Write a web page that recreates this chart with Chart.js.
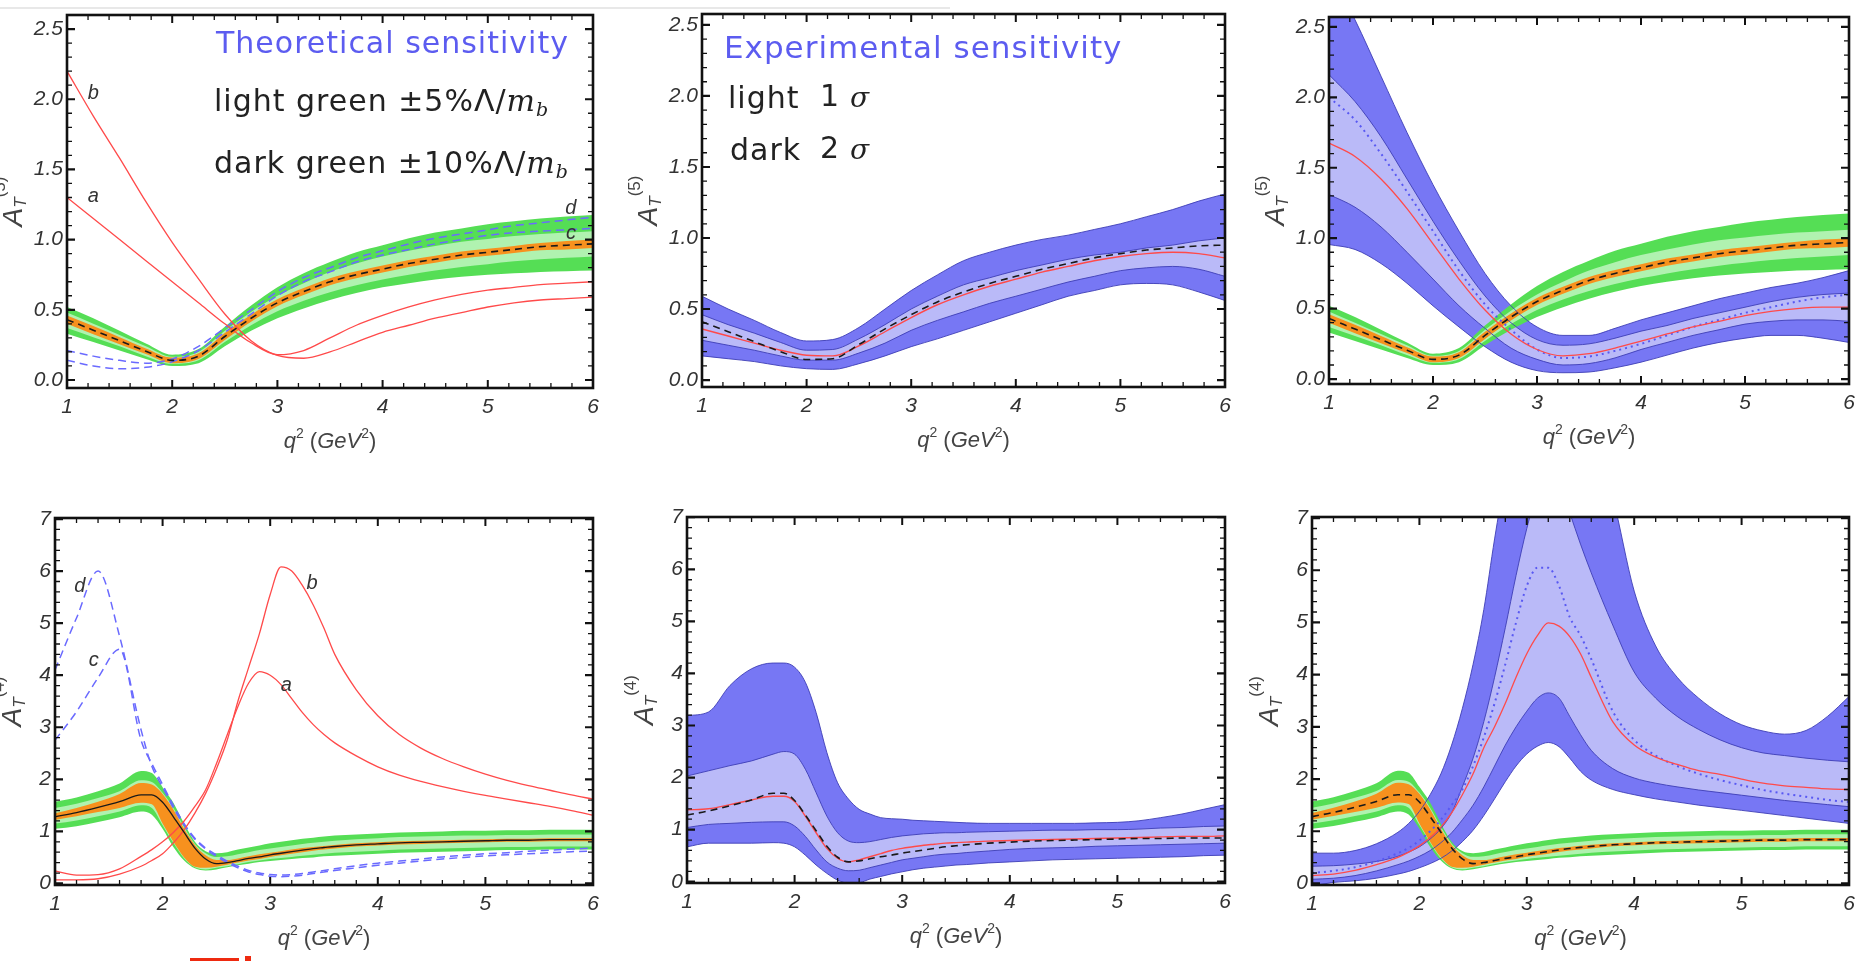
<!DOCTYPE html>
<html>
<head>
<meta charset="utf-8">
<script src="https://cdn.jsdelivr.net/npm/chart.js@4.4.0/dist/chart.umd.min.js"></script>
<style>
  body { margin: 0; background: #fff; width: 1868px; height: 961px; overflow: hidden; position: relative; }
  canvas { position: absolute; }
  .mark { position: absolute; background: #ee2a10; }
</style>
</head>
<body>
<div style="position:absolute;left:0;top:7px;width:950px;height:2px;background:#e8e8e8"></div>
<canvas id="p1"></canvas>
<canvas id="p2"></canvas>
<canvas id="p3"></canvas>
<canvas id="p4"></canvas>
<canvas id="p5"></canvas>
<canvas id="p6"></canvas>
<div class="mark" style="left:190px;top:958px;width:49px;height:3px"></div>
<div class="mark" style="left:245px;top:956px;width:6px;height:5px"></div>
<script>
// q^2 grids (GeV^2)
const qTop = [1, 1.25, 1.5, 1.75, 2, 2.25, 2.5, 2.75, 3, 3.25, 3.5, 3.75, 4, 4.25, 4.5, 4.75, 5, 5.25, 5.5, 5.75, 6];
const qBot = [1, 1.2, 1.4, 1.6, 1.8, 1.9, 2.0, 2.1, 2.2, 2.3, 2.4, 2.5, 2.6, 2.7, 2.8, 2.9, 3.0, 3.1, 3.2, 3.3,
              3.4, 3.5, 3.6, 3.8, 4.0, 4.2, 4.4, 4.6, 4.8, 5.0, 5.2, 5.4, 5.6, 5.8, 6.0];

const xTickLabels = ['1', '2', '3', '4', '5', '6'];
const yTickLabelsTop = ['0.0', '0.5', '1.0', '1.5', '2.0', '2.5'];
const yTickLabelsBot = ['0', '1', '2', '3', '4', '5', '6', '7'];

// ---- top row: A_T^(5) ----
// SM central value and theory bands
const smTop   = [0.43, 0.355, 0.28, 0.205, 0.14, 0.17, 0.31, 0.44, 0.55, 0.63, 0.70, 0.75, 0.79, 0.83, 0.86, 0.89, 0.91, 0.93, 0.95, 0.96, 0.97];
const orHiTop = [0.46, 0.385, 0.305, 0.225, 0.16, 0.19, 0.335, 0.465, 0.575, 0.655, 0.725, 0.775, 0.815, 0.855, 0.885, 0.915, 0.935, 0.955, 0.975, 0.99, 1.00];
const orLoTop = [0.40, 0.325, 0.255, 0.185, 0.12, 0.15, 0.285, 0.415, 0.525, 0.605, 0.675, 0.725, 0.765, 0.805, 0.835, 0.865, 0.885, 0.905, 0.925, 0.93, 0.94];
const lgHiTop = [0.48, 0.40, 0.32, 0.24, 0.165, 0.20, 0.35, 0.485, 0.60, 0.69, 0.77, 0.83, 0.88, 0.92, 0.955, 0.985, 1.005, 1.025, 1.04, 1.05, 1.06];
const lgLoTop = [0.37, 0.305, 0.24, 0.17, 0.115, 0.14, 0.27, 0.39, 0.49, 0.565, 0.625, 0.675, 0.715, 0.75, 0.78, 0.805, 0.825, 0.845, 0.86, 0.87, 0.88];
const dgHiTop = [0.52, 0.44, 0.35, 0.26, 0.18, 0.22, 0.38, 0.53, 0.66, 0.76, 0.84, 0.91, 0.96, 1.01, 1.05, 1.08, 1.11, 1.13, 1.15, 1.165, 1.175];
const dgLoTop = [0.33, 0.27, 0.21, 0.15, 0.10, 0.12, 0.24, 0.35, 0.44, 0.51, 0.57, 0.62, 0.66, 0.69, 0.715, 0.735, 0.75, 0.76, 0.77, 0.775, 0.78];
// benchmark curves a, b (red) and c, d (blue dashed)
const p1A = [1.30, 1.15, 1.00, 0.85, 0.70, 0.55, 0.40, 0.265, 0.18, 0.21, 0.30, 0.39, 0.46, 0.52, 0.57, 0.61, 0.64, 0.66, 0.68, 0.69, 0.70];
const p1B = [2.20, 1.88, 1.58, 1.27, 0.98, 0.72, 0.47, 0.28, 0.175, 0.155, 0.20, 0.27, 0.34, 0.39, 0.44, 0.48, 0.52, 0.55, 0.57, 0.58, 0.59];
const p1C = [0.14, 0.10, 0.08, 0.09, 0.13, 0.21, 0.34, 0.47, 0.60, 0.70, 0.77, 0.84, 0.89, 0.93, 0.97, 1.00, 1.03, 1.05, 1.06, 1.07, 1.08];
const p1D = [0.21, 0.17, 0.14, 0.12, 0.15, 0.24, 0.37, 0.50, 0.63, 0.73, 0.80, 0.87, 0.92, 0.97, 1.01, 1.04, 1.07, 1.10, 1.12, 1.14, 1.16];
// experimental sensitivity, SM
const p2Sm  = [0.41, 0.34, 0.27, 0.20, 0.145, 0.15, 0.25, 0.36, 0.46, 0.55, 0.62, 0.68, 0.73, 0.78, 0.82, 0.86, 0.89, 0.915, 0.93, 0.945, 0.95];
const p2Hi2 = [0.59, 0.50, 0.42, 0.335, 0.275, 0.285, 0.37, 0.50, 0.63, 0.74, 0.84, 0.90, 0.95, 0.99, 1.02, 1.06, 1.10, 1.15, 1.20, 1.26, 1.31];
const p2Hi1 = [0.46, 0.39, 0.33, 0.265, 0.21, 0.215, 0.29, 0.39, 0.50, 0.59, 0.67, 0.72, 0.77, 0.81, 0.85, 0.88, 0.90, 0.93, 0.95, 0.98, 1.00];
const p2Red = [0.36, 0.31, 0.26, 0.21, 0.175, 0.17, 0.24, 0.34, 0.44, 0.53, 0.60, 0.66, 0.71, 0.76, 0.80, 0.84, 0.87, 0.89, 0.90, 0.89, 0.86];
const p2Lo1 = [0.28, 0.245, 0.21, 0.17, 0.14, 0.14, 0.19, 0.26, 0.35, 0.42, 0.48, 0.54, 0.59, 0.64, 0.69, 0.73, 0.77, 0.79, 0.80, 0.78, 0.73];
const p2Lo2 = [0.17, 0.15, 0.13, 0.10, 0.08, 0.075, 0.115, 0.17, 0.235, 0.29, 0.35, 0.41, 0.47, 0.53, 0.59, 0.63, 0.67, 0.68, 0.67, 0.62, 0.56];
// experimental sensitivity, new physics point
const p3Hi2 = [2.90, 2.55, 2.15, 1.75, 1.38, 1.05, 0.75, 0.52, 0.37, 0.31, 0.31, 0.36, 0.42, 0.47, 0.52, 0.57, 0.61, 0.65, 0.68, 0.72, 0.77];
const p3Hi1 = [2.16, 1.97, 1.72, 1.42, 1.12, 0.84, 0.59, 0.40, 0.28, 0.24, 0.25, 0.29, 0.34, 0.38, 0.43, 0.47, 0.51, 0.55, 0.58, 0.60, 0.61];
const p3Red = [1.675, 1.58, 1.42, 1.21, 0.96, 0.71, 0.49, 0.32, 0.21, 0.165, 0.18, 0.22, 0.27, 0.32, 0.37, 0.41, 0.45, 0.48, 0.50, 0.51, 0.51];
const p3Dot = [2.00, 1.84, 1.60, 1.33, 1.05, 0.77, 0.53, 0.35, 0.21, 0.15, 0.16, 0.20, 0.25, 0.31, 0.37, 0.42, 0.47, 0.51, 0.55, 0.58, 0.60];
const p3Lo1 = [1.31, 1.22, 1.08, 0.90, 0.71, 0.52, 0.36, 0.22, 0.14, 0.10, 0.11, 0.15, 0.21, 0.26, 0.31, 0.35, 0.39, 0.41, 0.42, 0.42, 0.41];
const p3Lo2 = [0.955, 0.92, 0.82, 0.68, 0.52, 0.37, 0.23, 0.12, 0.06, 0.045, 0.05, 0.08, 0.12, 0.17, 0.22, 0.26, 0.29, 0.31, 0.31, 0.29, 0.26];

// ---- bottom row: A_T^(4) ----
const smBot    = [1.28, 1.36, 1.46, 1.57, 1.70, 1.70, 1.56, 1.28, 0.98, 0.68, 0.47, 0.38, 0.40, 0.44, 0.48, 0.51, 0.55, 0.58, 0.61, 0.64,
                  0.67, 0.69, 0.71, 0.74, 0.76, 0.78, 0.79, 0.80, 0.81, 0.82, 0.83, 0.83, 0.84, 0.84, 0.84];
const orHiBot  = [1.35, 1.45, 1.57, 1.72, 1.93, 1.90, 1.72, 1.42, 1.05, 0.74, 0.54, 0.45, 0.45, 0.48, 0.52, 0.56, 0.59, 0.62, 0.65, 0.68,
                  0.70, 0.72, 0.74, 0.77, 0.79, 0.81, 0.82, 0.83, 0.84, 0.85, 0.86, 0.86, 0.87, 0.87, 0.87];
const orLoBot  = [1.22, 1.29, 1.37, 1.45, 1.55, 1.52, 1.15, 0.80, 0.50, 0.32, 0.30, 0.32, 0.36, 0.40, 0.44, 0.47, 0.51, 0.54, 0.57, 0.60,
                  0.63, 0.65, 0.67, 0.71, 0.73, 0.75, 0.76, 0.77, 0.78, 0.79, 0.80, 0.80, 0.81, 0.81, 0.81];
const lgHiBot  = [1.45, 1.53, 1.64, 1.77, 1.98, 1.95, 1.74, 1.45, 1.08, 0.76, 0.58, 0.51, 0.52, 0.56, 0.60, 0.64, 0.67, 0.70, 0.73, 0.76,
                  0.78, 0.80, 0.82, 0.85, 0.87, 0.89, 0.90, 0.91, 0.92, 0.92, 0.93, 0.93, 0.94, 0.94, 0.94];
const lgLoBot  = [1.15, 1.21, 1.29, 1.38, 1.50, 1.45, 1.12, 0.78, 0.48, 0.31, 0.27, 0.30, 0.33, 0.37, 0.41, 0.44, 0.47, 0.49, 0.51, 0.53,
                  0.55, 0.57, 0.59, 0.61, 0.63, 0.65, 0.66, 0.67, 0.68, 0.69, 0.70, 0.70, 0.71, 0.71, 0.71];
const dgHiBot  = [1.57, 1.65, 1.77, 1.92, 2.16, 2.12, 1.85, 1.55, 1.15, 0.80, 0.62, 0.58, 0.60, 0.65, 0.69, 0.73, 0.77, 0.80, 0.83, 0.86,
                  0.88, 0.90, 0.92, 0.94, 0.96, 0.98, 0.99, 1.00, 1.01, 1.01, 1.02, 1.02, 1.03, 1.03, 1.03];
const dgLoBot  = [1.05, 1.10, 1.18, 1.27, 1.38, 1.32, 1.05, 0.70, 0.44, 0.29, 0.25, 0.27, 0.31, 0.35, 0.38, 0.41, 0.43, 0.45, 0.47, 0.49,
                  0.50, 0.52, 0.53, 0.55, 0.57, 0.59, 0.60, 0.61, 0.62, 0.63, 0.64, 0.64, 0.65, 0.65, 0.65];
const p4A = [0.24, 0.16, 0.17, 0.28, 0.52, 0.65, 0.80, 0.98, 1.20, 1.48, 1.80, 2.30, 2.85, 3.40, 3.85, 4.07, 4.00, 3.82, 3.55, 3.28,
             3.05, 2.86, 2.70, 2.45, 2.24, 2.08, 1.96, 1.86, 1.77, 1.69, 1.62, 1.55, 1.48, 1.40, 1.31];
const p4B = [0.07, 0.07, 0.09, 0.18, 0.33, 0.44, 0.57, 0.78, 1.03, 1.35, 1.73, 2.20, 2.75, 3.50, 4.15, 4.80, 5.55, 6.08, 6.00, 5.72,
             5.35, 4.90, 4.40, 3.72, 3.22, 2.86, 2.60, 2.40, 2.24, 2.10, 1.98, 1.88, 1.79, 1.70, 1.62];
const p4C = [2.75, 3.30, 3.95, 4.50, 2.75, 2.30, 1.90, 1.50, 1.15, 0.87, 0.68, 0.55, 0.43, 0.33, 0.25, 0.20, 0.17, 0.16, 0.17, 0.19,
             0.22, 0.25, 0.28, 0.34, 0.39, 0.43, 0.47, 0.51, 0.54, 0.57, 0.59, 0.62, 0.64, 0.66, 0.68];
const p4D = [4.10, 5.10, 6.00, 4.75, 2.95, 2.25, 1.85, 1.45, 1.12, 0.85, 0.66, 0.52, 0.40, 0.30, 0.22, 0.17, 0.14, 0.13, 0.14, 0.16,
             0.19, 0.22, 0.25, 0.30, 0.35, 0.39, 0.43, 0.47, 0.50, 0.53, 0.55, 0.57, 0.59, 0.61, 0.62];
const p5Hi2 = [3.19, 3.26, 3.77, 4.09, 4.20, 4.20, 4.12, 3.83, 3.25, 2.48, 1.90, 1.59, 1.39, 1.30, 1.23, 1.21, 1.20, 1.18, 1.17, 1.16,
               1.15, 1.14, 1.13, 1.12, 1.12, 1.12, 1.12, 1.12, 1.13, 1.14, 1.17, 1.23, 1.30, 1.39, 1.48];
const p5Hi1 = [2.03, 2.13, 2.23, 2.32, 2.45, 2.50, 2.45, 2.16, 1.71, 1.26, 0.94, 0.78, 0.75, 0.77, 0.81, 0.85, 0.88, 0.90, 0.92, 0.93,
               0.94, 0.94, 0.95, 0.96, 0.97, 0.98, 0.99, 0.99, 1.00, 1.00, 1.01, 1.03, 1.04, 1.06, 1.07];
const p5Red = [1.38, 1.40, 1.48, 1.57, 1.64, 1.64, 1.54, 1.26, 0.94, 0.64, 0.45, 0.38, 0.42, 0.48, 0.54, 0.60, 0.64, 0.67, 0.70, 0.72,
               0.74, 0.75, 0.76, 0.78, 0.79, 0.80, 0.81, 0.82, 0.83, 0.84, 0.85, 0.86, 0.87, 0.87, 0.88];
const p5Lo1 = [1.04, 1.10, 1.12, 1.14, 1.15, 1.15, 1.07, 0.87, 0.61, 0.38, 0.26, 0.21, 0.22, 0.27, 0.32, 0.37, 0.42, 0.45, 0.48, 0.51,
               0.53, 0.54, 0.56, 0.59, 0.62, 0.64, 0.65, 0.66, 0.68, 0.69, 0.70, 0.71, 0.72, 0.73, 0.74];
const p5Lo2 = [0.67, 0.74, 0.74, 0.74, 0.75, 0.74, 0.67, 0.51, 0.32, 0.16, 0.03, -0.03, -0.02, 0.05, 0.10, 0.15, 0.19, 0.23, 0.26, 0.28,
               0.30, 0.32, 0.33, 0.36, 0.38, 0.40, 0.42, 0.43, 0.44, 0.45, 0.46, 0.47, 0.48, 0.50, 0.51];
const p6Hi2 = [0.58, 0.58, 0.63, 0.76, 0.98, 1.15, 1.38, 1.70, 2.10, 2.65, 3.35, 4.20, 5.25, 6.60, 7.80, 8.80, 9.50, 9.80, 9.90, 9.80,
               9.50, 9.10, 8.70, 7.40, 5.60, 4.55, 3.95, 3.55, 3.25, 3.04, 2.92, 2.86, 2.93, 3.20, 3.58];
const p6Hi1 = [0.33, 0.34, 0.37, 0.42, 0.52, 0.60, 0.70, 0.85, 1.05, 1.35, 1.85, 2.40, 3.10, 3.95, 4.90, 5.90, 6.80, 7.50, 7.80, 7.70,
               7.10, 6.50, 5.95, 4.95, 4.05, 3.55, 3.20, 2.95, 2.75, 2.60, 2.50, 2.45, 2.40, 2.36, 2.33];
const p6Red = [0.15, 0.18, 0.25, 0.36, 0.50, 0.60, 0.72, 0.88, 1.08, 1.35, 1.70, 2.10, 2.60, 3.00, 3.45, 3.95, 4.40, 4.75, 4.99, 4.93,
               4.73, 4.40, 3.95, 3.10, 2.65, 2.42, 2.28, 2.16, 2.09, 2.00, 1.92, 1.87, 1.84, 1.81, 1.80];
const p6Dot = [0.20, 0.24, 0.31, 0.42, 0.58, 0.68, 0.82, 1.00, 1.22, 1.50, 1.80, 2.25, 2.80, 3.45, 4.20, 5.00, 5.70, 6.05, 6.05, 5.70,
               5.10, 4.75, 4.30, 3.30, 2.75, 2.45, 2.25, 2.10, 1.98, 1.88, 1.79, 1.72, 1.66, 1.60, 1.56];
const p6Lo1 = [0.08, 0.10, 0.15, 0.24, 0.36, 0.43, 0.52, 0.63, 0.78, 0.97, 1.22, 1.50, 1.85, 2.25, 2.65, 3.00, 3.30, 3.55, 3.65, 3.55,
               3.20, 2.85, 2.55, 2.20, 2.02, 1.92, 1.85, 1.79, 1.74, 1.69, 1.64, 1.59, 1.55, 1.51, 1.47];
const p6Lo2 = [-0.05, 0.02, 0.05, 0.10, 0.18, 0.23, 0.30, 0.38, 0.48, 0.62, 0.80, 1.02, 1.30, 1.62, 1.95, 2.25, 2.48, 2.63, 2.70, 2.62,
               2.40, 2.15, 1.98, 1.80, 1.70, 1.62, 1.56, 1.50, 1.45, 1.40, 1.35, 1.30, 1.25, 1.20, 1.15];

const COL = {
  dkBlue: '#7777f4', ltBlue: '#babaf8', blueEdge: '#3d3db5',
  green: '#55de55', ltGreen: '#b0f2b0', orange: '#f7911e',
  red: '#ff4a4a', dash: '#6a6aff', sm: '#1a1a1a', dot: '#5858f2',
  none: 'rgba(0,0,0,0)'
};
const SANS = '"Liberation Sans"';
const TICK_FONT = 'italic 21px ' + SANS;

const pts = (xs, ys) => ys.map((v, i) => ({ x: xs[i], y: v }));

function band(xs, lo, hi, color, edge) {
  return [
    { data: pts(xs, hi), backgroundColor: color, borderColor: edge || COL.none, borderWidth: edge ? 0.9 : 1, fill: '+1' },
    { data: pts(xs, lo), borderColor: edge || COL.none, borderWidth: edge ? 0.9 : 1, fill: false }
  ];
}
function line(xs, ys, color, width, dash) {
  return { data: pts(xs, ys), borderColor: color, borderWidth: width, borderDash: dash || [], fill: false };
}
function theory(xs, orLo, orHi, lgLo, lgHi, dgLo, dgHi) {
  return [
    ...band(xs, orLo, orHi, COL.orange),
    ...band(xs, lgLo, lgHi, COL.ltGreen),
    ...band(xs, dgLo, dgHi, COL.green)
  ];
}
function exper(xs, lo2, lo1, hi1, hi2) {
  return [
    ...band(xs, lo1, hi1, COL.ltBlue, COL.blueEdge),
    ...band(xs, lo2, hi2, COL.dkBlue, COL.blueEdge)
  ];
}

const mathLine = (pre) => [
  [pre, '30px "DejaVu Sans"', 0],
  ['m', 'italic 30px "DejaVu Serif"', 0],
  ['b', 'italic 19px "DejaVu Serif"', 8]
];

// frame rectangles [left, top, right, bottom] in page pixels, and per panel decorations
const PANELS = {
  p1: { frame: [67, 15, 593, 388], y: [-0.057, 2.6], top: true,
        notes: [['b', 1.25, 2.04], ['a', 1.25, 1.31], ['d', 5.79, 1.22], ['c', 5.79, 1.045]],
        texts: [
          { parts: [['Theoretical sensitivity', '30px "DejaVu Sans"', 0]], color: '#5c5cf0', dx: 149, dy: 30 },
          { parts: mathLine('light green ±5%Λ/'), color: '#222', dx: 147, dy: 88 },
          { parts: mathLine('dark green ±10%Λ/'), color: '#222', dx: 147, dy: 150 }
        ] },
  p2: { frame: [702, 14, 1225, 387], y: [-0.049, 2.577], top: true, notes: [],
        texts: [
          { parts: [['Experimental sensitivity', '31px "DejaVu Sans"', 0]], color: '#5c5cf0', dx: 22, dy: 36 },
          { parts: [['light', '30px "DejaVu Sans"', 0]], color: '#222', dx: 26, dy: 86 },
          { parts: [['1', '30px "DejaVu Sans"', 0]], color: '#222', dx: 118, dy: 84 },
          { parts: [['σ', 'italic 28px "DejaVu Serif"', 0]], color: '#222', dx: 148, dy: 86 },
          { parts: [['dark', '30px "DejaVu Sans"', 0]], color: '#222', dx: 28, dy: 138 },
          { parts: [['2', '30px "DejaVu Sans"', 0]], color: '#222', dx: 118, dy: 136 },
          { parts: [['σ', 'italic 28px "DejaVu Serif"', 0]], color: '#222', dx: 148, dy: 138 }
        ] },
  p3: { frame: [1329, 17, 1849, 384], y: [-0.035, 2.57], top: true, notes: [], texts: [] },
  p4: { frame: [55, 518, 593, 885], y: [-0.03, 7.02], top: false,
        notes: [['d', 1.23, 5.7], ['c', 1.36, 4.29], ['b', 3.39, 5.77], ['a', 3.15, 3.81]], texts: [] },
  p5: { frame: [687, 517, 1225, 883], y: [-0.025, 7.005], top: false, notes: [], texts: [] },
  p6: { frame: [1312, 517, 1849, 885], y: [-0.03, 7.02], top: false, notes: [], texts: [] }
};

function rich(ctx, parts, x, y, align) {
  let w = 0;
  parts.forEach(p => { ctx.font = p[1]; w += ctx.measureText(p[0]).width; });
  let cx = align === 'center' ? x - w / 2 : x;
  parts.forEach(p => {
    ctx.font = p[1];
    ctx.fillText(p[0], cx, y + (p[2] || 0));
    cx += ctx.measureText(p[0]).width;
  });
}

const framePlugin = {
  id: 'frame',
  afterDraw(chart) {
    const cfg = PANELS[chart.canvas.id];
    const { ctx, chartArea: a } = chart;
    const xs = chart.scales.x, ys = chart.scales.y;
    const yMinor = cfg.top ? 0.1 : 0.2;
    const yCount = cfg.top ? 25 : 35;
    ctx.save();
    ctx.strokeStyle = '#111';
    for (let i = 0; i <= 25; i++) {
      const major = i % 5 === 0;
      const px = xs.getPixelForValue(1 + i * 0.2);
      const len = major ? 8 : 5;
      ctx.lineWidth = major ? 2 : 1.3;
      ctx.beginPath();
      ctx.moveTo(px, a.bottom); ctx.lineTo(px, a.bottom - len);
      ctx.moveTo(px, a.top); ctx.lineTo(px, a.top + len);
      ctx.stroke();
    }
    for (let i = 0; i <= yCount; i++) {
      const major = i % 5 === 0;
      const py = ys.getPixelForValue(i * yMinor);
      const len = major ? 8 : 5;
      ctx.lineWidth = major ? 2.2 : 1.3;
      ctx.beginPath();
      ctx.moveTo(a.left, py); ctx.lineTo(a.left + len, py);
      ctx.moveTo(a.right, py); ctx.lineTo(a.right - len, py);
      ctx.stroke();
    }
    ctx.lineWidth = 2.6;
    ctx.strokeRect(a.left, a.top, a.right - a.left, a.bottom - a.top);

    // tick labels
    ctx.fillStyle = '#333';
    ctx.font = TICK_FONT;
    ctx.textBaseline = 'middle';
    ctx.textAlign = 'center';
    xTickLabels.forEach(t => ctx.fillText(t, xs.getPixelForValue(+t), a.bottom + 19));
    ctx.textAlign = 'right';
    (cfg.top ? yTickLabelsTop : yTickLabelsBot).forEach(t => ctx.fillText(t, a.left - 4, ys.getPixelForValue(+t)));

    // axis titles
    ctx.textAlign = 'left';
    ctx.fillStyle = '#444';
    rich(ctx, [
      ['q', 'italic 22px ' + SANS, 0], ['2', '14px ' + SANS, -8], [' (', '22px ' + SANS, 0],
      ['GeV', 'italic 22px ' + SANS, 0], ['2', '14px ' + SANS, -8], [')', '22px ' + SANS, 0]
    ], (a.left + a.right) / 2, a.bottom + 54, 'center');
    ctx.save();
    ctx.translate(a.left - (cfg.top ? 53 : 42), (a.top + a.bottom) / 2);
    ctx.rotate(-Math.PI / 2);
    rich(ctx, [
      ['A', 'italic 28px ' + SANS, 0], ['T', 'italic 17px ' + SANS, 7],
      [cfg.top ? '(5)' : '(4)', '17px ' + SANS, -14]
    ], 0, 0, 'center');
    ctx.restore();

    // curve labels
    ctx.fillStyle = '#333';
    ctx.textAlign = 'center';
    ctx.font = 'italic 20px ' + SANS;
    cfg.notes.forEach(n => ctx.fillText(n[0], xs.getPixelForValue(n[1]), ys.getPixelForValue(n[2])));

    // in-plot texts
    ctx.textAlign = 'left';
    ctx.letterSpacing = '1px';
    cfg.texts.forEach(t => {
      ctx.fillStyle = t.color;
      rich(ctx, t.parts, a.left + t.dx, a.top + t.dy, 'left');
    });
    ctx.restore();
  }
};

function makeChart(id, datasets) {
  const p = PANELS[id];
  const [l, t, r, b] = p.frame;
  const cx = Math.max(0, l - 75), cy = Math.max(0, t - 16);
  const cw = r + 12 - cx, ch = Math.min(961, b + 76) - cy;
  const el = document.getElementById(id);
  el.width = cw; el.height = ch;
  el.style.left = cx + 'px'; el.style.top = cy + 'px';
  return new Chart(el, {
    type: 'line',
    data: { datasets },
    options: {
      responsive: false,
      animation: false,
      events: [],
      layout: { padding: { left: l - cx, top: t - cy, right: cw - (r - cx), bottom: ch - (b - cy) } },
      plugins: {
        legend: { display: false },
        tooltip: { enabled: false },
        filler: { drawTime: 'beforeDatasetsDraw' }
      },
      elements: {
        point: { radius: 0, hitRadius: 0 },
        line: { cubicInterpolationMode: 'monotone' }
      },
      scales: {
        x: { type: 'linear', min: 1, max: 6, display: false },
        y: { type: 'linear', min: p.y[0], max: p.y[1], display: false }
      }
    },
    plugins: [framePlugin]
  });
}

// CHARTS (first dataset is drawn on top)
makeChart('p1', [
  line(qTop, smTop, COL.sm, 1.6, [7, 5]),
  line(qTop, p1A, COL.red, 1.3),
  line(qTop, p1B, COL.red, 1.3),
  line(qTop, p1C, COL.dash, 1.5, [8, 5]),
  line(qTop, p1D, COL.dash, 1.5, [8, 5]),
  ...theory(qTop, orLoTop, orHiTop, lgLoTop, lgHiTop, dgLoTop, dgHiTop)
]);
makeChart('p2', [
  line(qTop, p2Sm, COL.sm, 1.6, [7, 5]),
  line(qTop, p2Red, COL.red, 1.4),
  ...exper(qTop, p2Lo2, p2Lo1, p2Hi1, p2Hi2)
]);
makeChart('p3', [
  line(qTop, smTop, COL.sm, 1.6, [7, 5]),
  line(qTop, p3Red, COL.red, 1.3),
  line(qTop, p3Dot, COL.dot, 2, [2, 4]),
  ...theory(qTop, orLoTop, orHiTop, lgLoTop, lgHiTop, dgLoTop, dgHiTop),
  ...exper(qTop, p3Lo2, p3Lo1, p3Hi1, p3Hi2)
]);
makeChart('p4', [
  line(qBot, smBot, COL.sm, 1.3),
  line(qBot, p4A, COL.red, 1.3),
  line(qBot, p4B, COL.red, 1.3),
  line(qBot, p4C, COL.dash, 1.5, [8, 5]),
  line(qBot, p4D, COL.dash, 1.5, [8, 5]),
  ...theory(qBot, orLoBot, orHiBot, lgLoBot, lgHiBot, dgLoBot, dgHiBot)
]);
makeChart('p5', [
  line(qBot, smBot, COL.sm, 1.6, [7, 5]),
  line(qBot, p5Red, COL.red, 1.4),
  ...exper(qBot, p5Lo2, p5Lo1, p5Hi1, p5Hi2)
]);
makeChart('p6', [
  line(qBot, smBot, COL.sm, 1.6, [7, 5]),
  line(qBot, p6Red, COL.red, 1.3),
  line(qBot, p6Dot, COL.dot, 2, [2, 4]),
  ...theory(qBot, orLoBot, orHiBot, lgLoBot, lgHiBot, dgLoBot, dgHiBot),
  ...exper(qBot, p6Lo2, p6Lo1, p6Hi1, p6Hi2)
]);
</script>
</body>
</html>
